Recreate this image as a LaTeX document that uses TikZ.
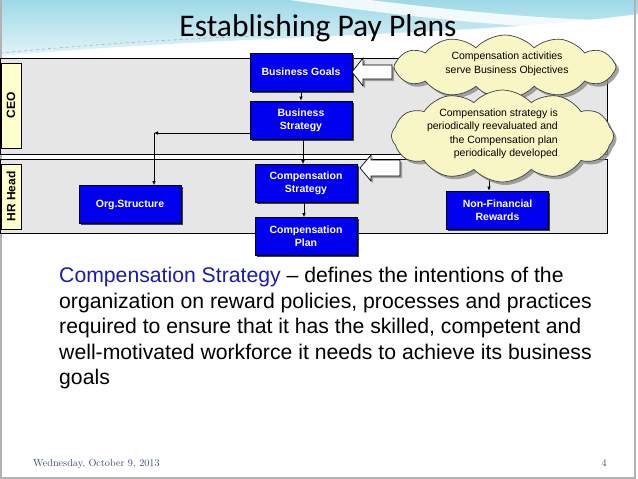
\documentclass[tikz,border=0pt]{standalone}
\usepackage{fontspec}
\usetikzlibrary{shapes.symbols,shadows,arrows.meta}
\newfontfamily\arial{Liberation Sans}
\newfontfamily\calibri{Carlito}
\definecolor{skyband}{HTML}{9ED9E8}
\definecolor{skypale}{HTML}{E2F4F8}
\definecolor{lanegray}{HTML}{E6E6E6}
\definecolor{roleyellow}{HTML}{FFFFCC}
\definecolor{stepblue}{HTML}{0000EE}
\definecolor{cloudyellow}{HTML}{F8F6C4}
\definecolor{textblue}{HTML}{1C1CA8}
\definecolor{footgray}{HTML}{3A4A70}

\tikzset{
  lane/.style={draw, fill=lanegray, line width=0.8pt, minimum width=607pt, inner sep=0, anchor=north west},
  role/.style={draw, fill=roleyellow, line width=0.8pt, rotate=90, inner sep=0, minimum height=20pt,
    font=\arial\bfseries\fontsize{12}{14}\selectfont},
  stepbox/.style={draw=black, fill=stepblue, text=white, line width=0.6pt, align=center,
    minimum width=102pt, minimum height=38pt, inner sep=0,
    font=\arial\bfseries\fontsize{10.5}{13}\selectfont,
    drop shadow={shadow xshift=1.5pt, shadow yshift=-1.5pt, fill=black!75, opacity=1}},
  cloudbox/.style={cloud, cloud puffs=12, cloud puff arc=95, cloud ignores aspect, draw=black!75, fill=cloudyellow,
    line width=0.7pt, inner sep=0,
    drop shadow={shadow xshift=3pt, shadow yshift=-3pt, fill=black!45, opacity=0.8}},
  cloudtext/.style={inner sep=0, font=\arial\fontsize{10.5}{13.5}\selectfont},
  arr/.style={-{Latex[length=4pt,width=3.5pt]}, line width=0.7pt},
  blockarrow/.style={draw, fill=white, line width=0.7pt,
    drop shadow={shadow xshift=2pt, shadow yshift=-2pt, fill=black!45, opacity=0.8}}
}

\begin{document}
\begin{tikzpicture}[x=1pt,y=-1pt]
  \useasboundingbox (0,0) rectangle (638,479);
  \fill[white] (0,0) rectangle (638,479);

  % header band
  \shade[top color=skyband, bottom color=skypale]
    (0,0) -- (638,0) -- (638,14) .. controls (480,36) and (250,34) .. (0,56) -- cycle;
  \fill[white, opacity=0.85] (290,0) .. controls (400,16) and (520,30) .. (638,30)
    -- (638,21) .. controls (530,20) and (420,6) .. (370,0) -- cycle;
  \draw[skyband!60!black, dashed, line width=0.5pt, opacity=0.6] (0,53) .. controls (120,42) and (200,38) .. (260,36);
  \draw[gray!60, line width=1.5pt] (0.75,0) -- (0.75,478) -- (635,478) -- (635,0);

  \node[font=\calibri\fontsize{31.5}{34}\selectfont, inner sep=0] (title) at (318,28) {Establishing Pay Plans};

  % swim lanes
  \node[lane, minimum height=96pt] (ceolane) at (0,58) {};
  \node[lane, minimum height=74pt] (hrlane) at (0,159) {};
  \node[role, minimum width=85pt] (ceo) at (11,105.5) {CEO};
  \node[role, minimum width=65pt] (hrhead) at (11,196.5) {HR Head};

  % steps
  \node[stepbox] (bg) at (301,72) {Business Goals};
  \node[stepbox] (bs) at (301,120) {Business\\Strategy};
  \node[stepbox] (cs) at (306,183.5) {Compensation\\Strategy};
  \node[stepbox] (cp) at (306,236.5) {Compensation\\Plan};
  \node[stepbox] (org) at (130,204.5) {Org.Structure};
  \node[stepbox] (nfr) at (497.5,210) {Non-Financial\\Rewards};

  \coordinate (orgbend) at (154,133);
  \coordinate (nfrfeed) at (489,168);

  \draw[arr] (bg) -- (bs);
  \draw[arr] (bs.south -| 303,0) -- (cs.north -| 303,0);
  \draw[arr] (cs.south -| 304,0) -- (cp.north -| 304,0);
  \draw[arr] (bs.west |- orgbend) -- (orgbend);
  \draw[arr] (orgbend) -- (orgbend |- org.north);
  \draw[arr] (nfrfeed) -- (nfrfeed |- nfr.north);

  % block arrows
  \draw[blockarrow] (352,72) -- (363,58) -- (363,65) -- (392,65) -- (392,79) -- (363,79) -- (363,86) -- cycle;
  \draw[blockarrow] (360,168) -- (371,155) -- (371,160) -- (400,160) -- (400,176) -- (371,176) -- (371,181) -- cycle;

  % clouds
  \node[cloudbox, minimum width=222pt, minimum height=64pt] (goalcloud) at (505,67) {};
  \node[cloudbox, minimum width=222pt, minimum height=92pt] (reviewcloud) at (502.5,136) {};
  \node[cloudtext, align=center] (goaltext) at (507,64)
    {Compensation activities\\serve Business Objectives};
  \node[cloudtext, align=right, anchor=east] (reviewtext) at (558,134)
    {Compensation strategy is\\periodically reevaluated and\\the Compensation plan\\periodically developed};

  % definition
  \node[inner sep=0, anchor=north west, align=left, font=\arial\fontsize{21.2}{25.5}\selectfont] (definition) at (59,267)
    {\textcolor{textblue}{Compensation Strategy} – defines the intentions of the\\
     organization on reward policies, processes and practices\\
     required to ensure that it has the skilled, competent and\\
     well-motivated workforce it needs to achieve its business\\
     goals};

  % footer
  \node[inner sep=0, anchor=base west, font=\rmfamily\fontsize{10.2}{12}\selectfont, text=footgray] (date) at (33,466)
    {Wednesday, October 9, 2013};
  \node[inner sep=0, anchor=base east, font=\rmfamily\fontsize{10.2}{12}\selectfont, text=footgray] (pagenum) at (607,466) {4};
\end{tikzpicture}
\end{document}
